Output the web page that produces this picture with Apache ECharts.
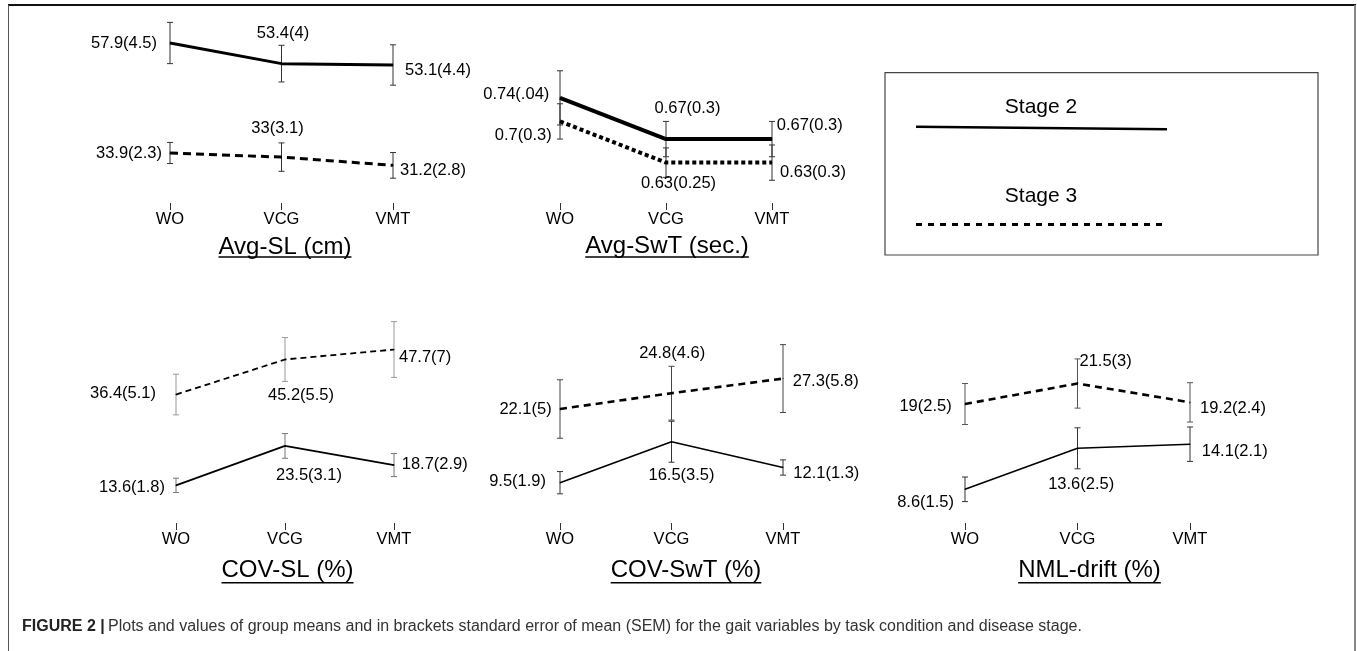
<!DOCTYPE html>
<html><head><meta charset="utf-8">
<script src="https://cdn.jsdelivr.net/npm/echarts@6/dist/echarts.min.js"></script>
<style>html,body{margin:0;padding:0;background:#fff;}#c{width:1357px;height:651px;}</style>
</head><body><div id="c"></div>
<script>
// ---------------- DATA ----------------
const categories = ['WO', 'VCG', 'VMT'];
const seriesNames = ['Stage 2', 'Stage 3'];
const panelTitles = ['Avg-SL (cm)', 'Avg-SwT (sec.)', 'COV-SL (%)', 'COV-SwT (%)', 'NML-drift (%)'];
const captionBold = 'FIGURE 2 |';
const captionText = 'Plots and values of group means and in brackets standard error of mean (SEM) for the gait variables by task condition and disease stage.';

// Avg-SL (cm)
const avgSL_stage2 = [57.9, 53.4, 53.1];
const avgSL_stage2_sem = ['4.5', '4', '4.4'];
const avgSL_stage2_err = [4.5, 4, 4.4];
const avgSL_stage3 = [33.9, 33, 31.2];
const avgSL_stage3_sem = ['2.3', '3.1', '2.8'];
const avgSL_stage3_err = [2.3, 3.1, 2.8];

// Avg-SwT (sec.)  (error bar half-lengths)
const avgSwT_stage2 = [0.74, 0.67, 0.67];
const avgSwT_stage2_sem = ['.04', '0.3', '0.3'];
const avgSwT_stage2_err = [0.046, 0.03, 0.03];
const avgSwT_stage3 = [0.7, 0.63, 0.63];
const avgSwT_stage3_sem = ['0.3', '0.25', '0.3'];
const avgSwT_stage3_err = [0.03, 0.025, 0.03];

// COV-SL (%)
const covSL_stage2 = [13.6, 23.5, 18.7];
const covSL_stage2_sem = ['1.8', '3.1', '2.9'];
const covSL_stage2_err = [1.8, 3.1, 2.9];
const covSL_stage3 = [36.4, 45.2, 47.7];
const covSL_stage3_sem = ['5.1', '5.5', '7'];
const covSL_stage3_err = [5.1, 5.5, 7];

// COV-SwT (%)
const covSwT_stage2 = [9.5, 16.5, 12.1];
const covSwT_stage2_sem = ['1.9', '3.5', '1.3'];
const covSwT_stage2_err = [1.9, 3.5, 1.3];
const covSwT_stage3 = [22.1, 24.8, 27.3];
const covSwT_stage3_sem = ['5', '4.6', '5.8'];
const covSwT_stage3_err = [5, 4.6, 5.8];

// NML-drift (%)
const nml_stage2 = [8.6, 13.6, 14.1];
const nml_stage2_sem = ['1.5', '2.5', '2.1'];
const nml_stage2_err = [1.5, 2.5, 2.1];
const nml_stage3 = [19, 21.5, 19.2];
const nml_stage3_sem = ['2.5', '3', '2.4'];
const nml_stage3_err = [2.5, 3, 2.4];

// ---------------- LAYOUT / STYLE ----------------
const FONT = '"Liberation Sans", Arial, Helvetica, sans-serif';
const panels = [
  { title: panelTitles[0], titleX: 285, titleY: 247.3, ulY: 257,
    grid: { left: 170, width: 223, top: 20, height: 190 }, yMin: 21.46, yMax: 62.92,
    data: [[avgSL_stage2, avgSL_stage2_sem, avgSL_stage2_err], [avgSL_stage3, avgSL_stage3_sem, avgSL_stage3_err]],
    line: [{ width: 3, type: 'solid' }, { width: 3, type: [8, 5] }],
    errColor: ['#333', '#333'],
    lab: [[[-13, 0, 'right'], [1.5, -30, 'center'], [12, 5, 'left']],
          [[-8, 0, 'right'], [-4, -29, 'center'], [7, 4.6, 'left']]] },
  { title: panelTitles[1], titleX: 667, titleY: 246.5, ulY: 257,
    grid: { left: 560, width: 212, top: 20, height: 190 }, yMin: 0.5495, yMax: 0.8723,
    data: [[avgSwT_stage2, avgSwT_stage2_sem, avgSwT_stage2_err], [avgSwT_stage3, avgSwT_stage3_sem, avgSwT_stage3_err]],
    line: [{ width: 4, type: 'solid' }, { width: 4, type: [4, 3] }],
    errColor: ['#333', '#333'],
    lab: [[[-10.7, -3.6, 'right'], [21.5, -31, 'center'], [4.7, -14, 'left']],
          [[-8.3, 13.6, 'right'], [12.5, 21, 'center'], [8, 9.7, 'left']]] },
  { title: panelTitles[2], titleX: 287.5, titleY: 570, ulY: 582.7,
    grid: { left: 176, width: 218, top: 300, height: 230 }, yMin: 2.40, yMax: 60.13,
    data: [[covSL_stage2, covSL_stage2_sem, covSL_stage2_err], [covSL_stage3, covSL_stage3_sem, covSL_stage3_err]],
    line: [{ width: 1.8, type: 'solid' }, { width: 1.8, type: [6, 4] }],
    errColor: ['#777', '#999'],
    lab: [[[-11, 2.2, 'right'], [24, 29.5, 'center'], [7.7, -0.3, 'left']],
          [[-20, -1.3, 'right'], [16, 35.7, 'center'], [5, 8.3, 'left']]] },
  { title: panelTitles[3], titleX: 686, titleY: 570, ulY: 582.7,
    grid: { left: 560, width: 223, top: 300, height: 230 }, yMin: 1.415, yMax: 40.73,
    data: [[covSwT_stage2, covSwT_stage2_sem, covSwT_stage2_err], [covSwT_stage3, covSwT_stage3_sem, covSwT_stage3_err]],
    line: [{ width: 1.6, type: 'solid' }, { width: 2.6, type: [7, 5] }],
    errColor: ['#333', '#444'],
    lab: [[[-14, -1, 'right'], [10, 33.3, 'center'], [10.3, 5.6, 'left']],
          [[-8.3, 0, 'right'], [0.7, -40, 'center'], [9.7, 2.7, 'left']]] },
  { title: panelTitles[4], titleX: 1089.5, titleY: 570, ulY: 582.7,
    grid: { left: 965, width: 225, top: 300, height: 230 }, yMin: 3.637, yMax: 31.685,
    data: [[nml_stage2, nml_stage2_sem, nml_stage2_err], [nml_stage3, nml_stage3_sem, nml_stage3_err]],
    line: [{ width: 1.6, type: 'solid' }, { width: 2.6, type: [7, 5] }],
    errColor: ['#333', '#555'],
    lab: [[[-11, 13, 'right'], [3.7, 36, 'center'], [11.7, 7.7, 'left']],
          [[-13.3, 2, 'right'], [2, -21.6, 'left'], [10, 5.7, 'left']]] }
];

// ---------------- BUILD ----------------
const grids = [], xAxes = [], yAxes = [], series = [], graphics = [];
const mctx = document.createElement('canvas').getContext('2d');
function textWidth(t, font) { mctx.font = font; return mctx.measureText(t).width; }

function makeErrRender(color) {
  return function (params, api) {
    const x = api.value(0), m = api.value(1), e = api.value(2);
    const hi = api.coord([x, m + e]), lo = api.coord([x, m - e]);
    const cw = 3;
    const st = { stroke: color, lineWidth: 1 };
    return { type: 'group', children: [
      { type: 'line', shape: { x1: hi[0], y1: hi[1], x2: lo[0], y2: lo[1] }, style: st },
      { type: 'line', shape: { x1: hi[0] - cw, y1: hi[1], x2: hi[0] + cw, y2: hi[1] }, style: st },
      { type: 'line', shape: { x1: lo[0] - cw, y1: lo[1], x2: lo[0] + cw, y2: lo[1] }, style: st }
    ] };
  };
}

panels.forEach((p, i) => {
  grids.push(Object.assign({ containLabel: false }, p.grid));
  xAxes.push({ type: 'category', gridIndex: i, data: categories, boundaryGap: false,
    axisLine: { show: false },
    axisTick: { show: true, inside: true, length: 7, lineStyle: { color: '#333', width: 1 } },
    axisLabel: { fontSize: 16.5, color: '#000', margin: 1, fontFamily: FONT },
    splitLine: { show: false } });
  yAxes.push({ type: 'value', gridIndex: i, min: p.yMin, max: p.yMax, show: false, splitLine: { show: false } });
  p.data.forEach((d, s) => {
    const [vals, sems, errs] = d;
    series.push({ type: 'custom', name: seriesNames[s] + ' SEM', xAxisIndex: i, yAxisIndex: i, z: 1,
      renderItem: makeErrRender(p.errColor[s]), encode: { x: 0, y: 1 },
      data: vals.map((v, k) => [k, v, errs[k]]), silent: true });
    series.push({ type: 'line', name: seriesNames[s], xAxisIndex: i, yAxisIndex: i, z: 3,
      symbol: 'circle', symbolSize: 1, showSymbol: true, itemStyle: { color: '#000' },
      lineStyle: { color: '#000', width: p.line[s].width, type: p.line[s].type },
      data: vals.map((v, k) => ({ value: v,
        label: { show: true, position: 'inside', offset: [p.lab[s][k][0], p.lab[s][k][1]],
          align: p.lab[s][k][2], verticalAlign: 'middle',
          formatter: String(v) + '(' + sems[k] + ')' } })),
      label: { show: true, color: '#000', fontSize: 16.5, fontFamily: FONT },
      silent: true });
  });
  // panel title with underline
  const tf = '24px "Liberation Sans"';
  const w = textWidth(p.title, tf);
  graphics.push({ type: 'text', x: p.titleX, y: p.titleY, silent: true,
    style: { text: p.title, font: '24px ' + FONT, fill: '#000', textAlign: 'center', textVerticalAlign: 'middle' } });
  graphics.push({ type: 'line', silent: true, shape: { x1: p.titleX - w / 2, y1: p.ulY, x2: p.titleX + w / 2, y2: p.ulY },
    style: { stroke: '#000', lineWidth: 1.5 } });
});

// legend box
graphics.push({ type: 'rect', silent: true, shape: { x: 885, y: 72.7, width: 433, height: 182.3 },
  style: { fill: 'none', stroke: '#444', lineWidth: 1.2 } });
graphics.push({ type: 'text', silent: true, x: 1041, y: 107, style: { text: seriesNames[0], font: '21px ' + FONT, fill: '#000', textAlign: 'center', textVerticalAlign: 'middle' } });
graphics.push({ type: 'line', silent: true, shape: { x1: 916, y1: 126.7, x2: 1167, y2: 129.3 }, style: { stroke: '#000', lineWidth: 2.5 } });
graphics.push({ type: 'text', silent: true, x: 1041, y: 196.5, style: { text: seriesNames[1], font: '21px ' + FONT, fill: '#000', textAlign: 'center', textVerticalAlign: 'middle' } });
graphics.push({ type: 'line', silent: true, shape: { x1: 916, y1: 224.5, x2: 1167, y2: 224.5 }, style: { stroke: '#000', lineWidth: 3, lineDash: [6, 6] } });

// outer frame
graphics.push({ type: 'line', silent: true, shape: { x1: 8, y1: 5, x2: 1356, y2: 5 }, style: { stroke: '#111', lineWidth: 2 } });
graphics.push({ type: 'line', silent: true, shape: { x1: 8.5, y1: 5, x2: 8.5, y2: 651 }, style: { stroke: '#555', lineWidth: 1 } });
graphics.push({ type: 'line', silent: true, shape: { x1: 1355, y1: 5, x2: 1355, y2: 651 }, style: { stroke: '#888', lineWidth: 2 } });

// caption
graphics.push({ type: 'text', silent: true, x: 22, y: 627,
  style: { text: '{b|' + captionBold + '} {n|' + captionText + '}', textVerticalAlign: 'middle', textAlign: 'left',
    rich: { b: { fontSize: 16, fontWeight: 'bold', fontFamily: FONT, fill: '#222', color: '#222' },
            n: { fontSize: 16, fontFamily: FONT, fill: '#333', color: '#333' } } } });

const chart = echarts.init(document.getElementById('c'), null, { renderer: 'canvas' });
chart.setOption({
  animation: false,
  backgroundColor: '#fff',
  grid: grids, xAxis: xAxes, yAxis: yAxes, series: series,
  graphic: graphics
});
</script>
</body></html>
